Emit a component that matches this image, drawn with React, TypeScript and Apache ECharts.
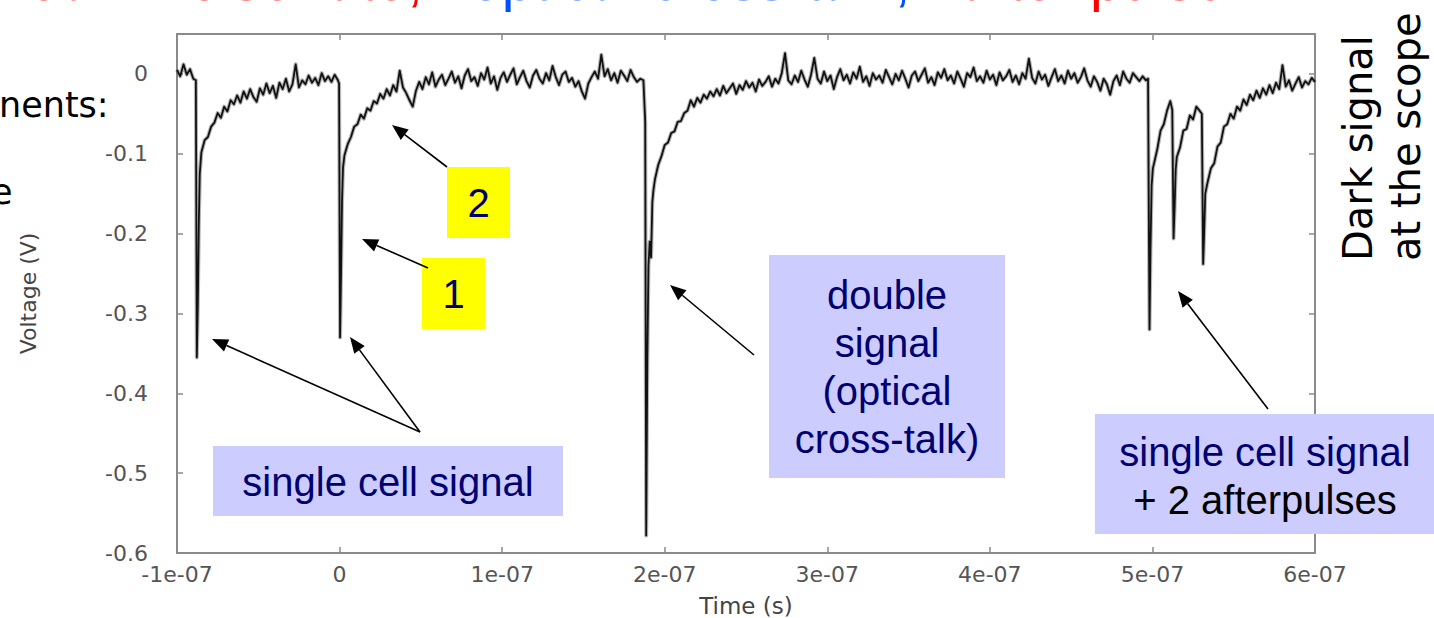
import React, { useEffect, useRef } from 'react';
import * as echarts from 'echarts';

// ---------- data (time in ns, voltage in V) ----------
const STEP_NS = 2;

const xTickLabels = ['-1e-07', '0', '1e-07', '2e-07', '3e-07', '4e-07', '5e-07', '6e-07'];
const yTickLabels = ['-0.6', '-0.5', '-0.4', '-0.3', '-0.2', '-0.1', '0'];

// baseline before first pulse, sampled every 2 ns from t = -100 ns
const leadInStart = -100;
const leadIn = [0.005, -0.003, 0.012, -0.001, 0.006, -0.006];

// pulse 1 (single cell) fast edge: [t, V]
const spike1Edge = [
  [-88.4, -0.008], [-87.8, -0.355], [-87.2, -0.29], [-86.6, -0.19], [-86.0, -0.125],
];
const recovery1Start = -85;
const recovery1 = [
  -0.098, -0.083, -0.079, -0.066, -0.061, -0.049, -0.055, -0.041, -0.047, -0.033,
  -0.038, -0.027, -0.036, -0.022, -0.031, -0.019, -0.029, -0.035, -0.018, -0.026,
  -0.012, -0.024, -0.015, -0.030, -0.011, -0.019, -0.006, -0.022, -0.013, 0.012,
  -0.017, -0.008, -0.013, -0.002, -0.011, -0.005, -0.014, 0.001, -0.009, -0.003,
  -0.010, -0.001, -0.008,
];

// pulse 2 (single cell) at t = 0
const spike2Edge = [
  [-0.3, -0.012], [0.3, -0.33], [0.9, -0.25], [1.5, -0.16], [2.1, -0.118],
];
const recovery2Start = 3;
const recovery2 = [
  -0.102, -0.088, -0.079, -0.066, -0.063, -0.051, -0.056, -0.043, -0.046, -0.034,
  -0.037, -0.025, -0.031, -0.019, -0.027, -0.014, -0.022, 0.004, -0.017, -0.024,
  -0.033, -0.041, -0.021, -0.010, -0.019, -0.004, -0.013, 0.002, -0.016, -0.007,
  -0.001, -0.014, -0.006, 0.003, -0.011, -0.003, -0.018, -0.002, 0.006, -0.009,
  -0.004, -0.015, 0.001, -0.007, 0.008, -0.012, -0.003, -0.020, -0.005, 0.002,
  -0.010, -0.001, 0.007, -0.013, -0.004, 0.004, -0.009, -0.017, -0.002, 0.005,
  -0.006, -0.012, 0.001, -0.008, 0.010, -0.004, -0.014, -0.001, 0.003, -0.010,
  -0.005, -0.016, -0.009, -0.022, -0.031, -0.012, -0.004, 0.003, -0.006, 0.024,
  -0.003, 0.006, -0.008, 0.001, -0.011, 0.004, -0.002, -0.009, 0.005, -0.004,
  -0.010, -0.006,
];

// pulse 3 (double signal, optical cross-talk)
const spike3Edge = [
  [186.9, -0.008], [188.0, -0.06], [188.6, -0.578], [189.3, -0.36], [190.0, -0.24],
  [190.8, -0.21], [191.6, -0.23], [192.4, -0.16], [193.1, -0.145],
];
const recovery3Start = 194;
const recovery3 = [
  -0.132, -0.114, -0.103, -0.089, -0.086, -0.074, -0.072, -0.060, -0.059, -0.049,
  -0.046, -0.033, -0.041, -0.030, -0.036, -0.026, -0.031, -0.022, -0.028, -0.019,
  -0.027, -0.015, -0.024, -0.018, -0.012, -0.025, -0.014, -0.020, -0.009, -0.017,
  -0.011, -0.022, -0.007, -0.015, -0.010, -0.003, -0.016, -0.006, -0.012, 0.001,
  0.026, -0.008, -0.013, -0.002, -0.010, 0.004, -0.007, -0.016, -0.001, 0.020,
  -0.006, -0.012, 0.003, -0.009, -0.002, -0.019, -0.004, 0.006, -0.008, -0.001,
  -0.012, 0.002, -0.006, 0.009, -0.010, -0.003, -0.015, 0.001, -0.007, -0.002,
  -0.011, 0.005, -0.004, -0.013, 0.000, -0.008, 0.004, -0.006, -0.017, -0.002,
  0.003, -0.009, -0.001, 0.007, -0.011, -0.004, -0.014, 0.002, -0.005, 0.006,
  -0.008, -0.002, -0.012, 0.003, -0.006, -0.016, 0.001, -0.004, 0.008, -0.009,
  -0.003, -0.011, 0.004, -0.007, -0.001, -0.014, 0.002, -0.008, -0.003, 0.005,
  -0.010, -0.002, -0.013, 0.001, -0.006, 0.019, -0.005, -0.012, 0.003, -0.007,
  -0.001, -0.015, -0.004, 0.006, -0.009, -0.002, -0.012, 0.004, -0.006, 0.001,
  -0.011, -0.004, 0.007, -0.008, -0.016, -0.003, -0.010, -0.021, -0.006, -0.013,
  -0.026, -0.009, -0.002, -0.014, 0.003, -0.006, -0.011, 0.001, -0.004, -0.009,
  -0.003, -0.008,
];

// pulse 4 (single cell) + 2 afterpulses
const spike4Edge = [
  [497.3, -0.006], [498.2, -0.32], [498.8, -0.22], [499.5, -0.14], [500.3, -0.118],
];
const recovery4Start = 501;
const recovery4 = [-0.112, -0.094, -0.071, -0.063, -0.046, -0.034];
const afterpulse1Edge = [
  [512.2, -0.045], [513.0, -0.206], [513.6, -0.17], [514.3, -0.12],
];
const recovery5Start = 515;
const recovery5 = [-0.104, -0.092, -0.071, -0.069, -0.052, -0.057, -0.041, -0.046];
const afterpulse2Edge = [
  [530.4, -0.05], [531.2, -0.238], [531.8, -0.2], [532.5, -0.15],
];
const recovery6Start = 534;
const recovery6 = [
  -0.135, -0.118, -0.112, -0.091, -0.086, -0.066, -0.063, -0.050, -0.056, -0.041,
  -0.046, -0.032, -0.039, -0.026, -0.033, -0.021, -0.030, -0.018, -0.026, -0.014,
  -0.024, -0.011, -0.019, 0.011, -0.016, -0.008, -0.021, -0.012, -0.004, -0.017,
  -0.009, -0.013, -0.005, -0.010,
];

// ---------- build trace ----------
const sampled = (t0: number, vals: number[]) => vals.map((v, i) => [t0 + i * STEP_NS, v]);

const trace = [
  ...sampled(leadInStart, leadIn),
  ...spike1Edge,
  ...sampled(recovery1Start, recovery1),
  ...spike2Edge,
  ...sampled(recovery2Start, recovery2),
  ...spike3Edge,
  ...sampled(recovery3Start, recovery3),
  ...spike4Edge,
  ...sampled(recovery4Start, recovery4),
  ...afterpulse1Edge,
  ...sampled(recovery5Start, recovery5),
  ...afterpulse2Edge,
  ...sampled(recovery6Start, recovery6),
];

// ---------- styling helpers ----------
const NAVY = '#000070';
const LAVENDER = '#ccccff';
const YELLOW = '#ffff00';
const SANS = '"Liberation Sans", Arial, sans-serif';
const DEJAVU = '"DejaVu Sans", sans-serif';
const FRAME = '#8a8a8a';

function arrow(x1: number, y1: number, x2: number, y2: number) {
  const dx = x2 - x1;
  const dy = y2 - y1;
  const len = Math.hypot(dx, dy);
  const ux = dx / len;
  const uy = dy / len;
  const hl = 16;
  const hw = 6.5;
  const bx = x2 - ux * hl;
  const by = y2 - uy * hl;
  return [
    { type: 'line', z: 100, shape: { x1, y1, x2: bx, y2: by }, style: { stroke: '#000', lineWidth: 1.6 } },
    {
      type: 'polygon',
      z: 100,
      shape: { points: [[x2, y2], [bx - uy * hw, by + ux * hw], [bx + uy * hw, by - ux * hw]] },
      style: { fill: '#000' },
    },
  ];
}

function box(x: number, y: number, w: number, h: number, fill: string) {
  return { type: 'rect', z: 90, shape: { x, y, width: w, height: h }, style: { fill } };
}

function label(text: string, x: number, y: number, size: number, fill: string, font = SANS, align = 'center', rotation = 0) {
  return {
    type: 'text',
    z: 110,
    x,
    y,
    rotation,
    style: { text, fill, fontSize: size, fontFamily: font, align, verticalAlign: 'middle' },
  };
}

const axisCommon = {
  axisLine: { show: true, onZero: false, lineStyle: { color: FRAME, width: 2 } },
  axisTick: { show: true, inside: true, length: 6, lineStyle: { color: FRAME, width: 1.5 } },
  splitLine: { show: false },
};

export default function App() {
  const ref = useRef<HTMLDivElement>(null);

  useEffect(() => {
    if (!ref.current) return;
    const chart = echarts.init(ref.current, undefined, { renderer: 'svg' });

    const graphic: any[] = [
      // slide title, cut off by the top edge in the reference
      label('dark noise rate,', 30, -20, 57, '#ff0000', SANS, 'left'),
      label('optical cross-talk,', 470, -20, 57, '#0050ff', SANS, 'left'),
      label('after pulse', 960, -20, 57, '#ff0000', SANS, 'left'),
      // slide body text, cut off by the left edge in the reference
      label('nents:', -1, 105, 35, '#000', DEJAVU, 'left'),
      label('e', -9, 192, 35, '#000', DEJAVU, 'left'),
      // right vertical caption
      label('Dark signal', 1358, 261, 40, '#000', DEJAVU, 'left', Math.PI / 2),
      label('at the scope', 1406, 261, 40, '#000', DEJAVU, 'left', Math.PI / 2),
      // arrows
      ...arrow(420, 432, 212, 339),
      ...arrow(420, 432, 350, 337),
      ...arrow(428, 268, 362, 239),
      ...arrow(447, 167, 392, 125),
      ...arrow(754, 355, 670, 285),
      ...arrow(1268, 409, 1178, 291),
      // boxes
      box(447, 167, 63, 71, YELLOW),
      label('2', 478.5, 203, 40, NAVY),
      box(422, 258, 63, 71, YELLOW),
      label('1', 453.5, 294, 40, NAVY),
      box(213, 446, 350, 70, LAVENDER),
      label('single cell signal', 388, 482, 40, NAVY),
      box(769, 255, 236, 223, LAVENDER),
      label('double', 887, 295, 40, NAVY),
      label('signal', 887, 343, 40, NAVY),
      label('(optical', 887, 391, 40, NAVY),
      label('cross-talk)', 887, 439, 40, NAVY),
      box(1095, 414, 339, 120, LAVENDER),
      label('single cell signal', 1265, 452, 40, NAVY),
      label('+ 2 afterpulses', 1265, 500, 40, '#000'),
    ];

    const tickFont = { color: '#555', fontFamily: DEJAVU, fontSize: 22 };

    chart.setOption({
      animation: false,
      backgroundColor: '#ffffff',
      grid: {
        left: 177,
        right: 119,
        top: 34,
        bottom: 65,
        containLabel: false,
        outerBoundsMode: 'none',
      },
      xAxis: [
        {
          type: 'value',
          position: 'bottom',
          min: -100,
          max: 600,
          interval: 100,
          name: 'Time (s)',
          nameLocation: 'middle',
          nameGap: 41,
          nameTextStyle: { color: '#444', fontFamily: DEJAVU, fontSize: 23 },
          ...axisCommon,
          axisLabel: {
            ...tickFont,
            margin: 10,
            formatter: (v: number) => xTickLabels[Math.round((v + 100) / 100)] ?? '',
          },
        },
        {
          type: 'value',
          position: 'top',
          min: -100,
          max: 600,
          interval: 100,
          ...axisCommon,
          axisLabel: { show: false },
        },
      ],
      yAxis: [
        {
          type: 'value',
          position: 'left',
          min: -0.6,
          max: 0.05,
          interval: 0.1,
          name: 'Voltage (V)',
          nameLocation: 'middle',
          nameGap: 138,
          nameTextStyle: { color: '#444', fontFamily: DEJAVU, fontSize: 22 },
          ...axisCommon,
          axisLabel: {
            ...tickFont,
            margin: 29,
            showMaxLabel: false,
            formatter: (v: number) => yTickLabels[Math.round((v + 0.6) / 0.1)] ?? '',
          },
        },
        {
          type: 'value',
          position: 'right',
          min: -0.6,
          max: 0.05,
          interval: 0.1,
          ...axisCommon,
          axisLabel: { show: false },
        },
      ],
      series: [
        {
          // soft grey halo, imitating the blurred scope trace
          type: 'line',
          xAxisIndex: 0,
          yAxisIndex: 0,
          data: trace,
          symbol: 'none',
          silent: true,
          z: 1,
          lineStyle: { color: 'rgba(90,90,90,0.45)', width: 4, join: 'round' },
        },
        {
          type: 'line',
          xAxisIndex: 0,
          yAxisIndex: 0,
          data: trace,
          symbol: 'none',
          silent: true,
          z: 2,
          lineStyle: { color: '#111', width: 1.8, join: 'round' },
        },
      ],
      graphic,
    });

    return () => chart.dispose();
  }, []);

  return (
    <div
      ref={ref}
      style={{ position: 'absolute', left: 0, top: 0, width: 1434, height: 618, background: '#fff' }}
    />
  );
}
